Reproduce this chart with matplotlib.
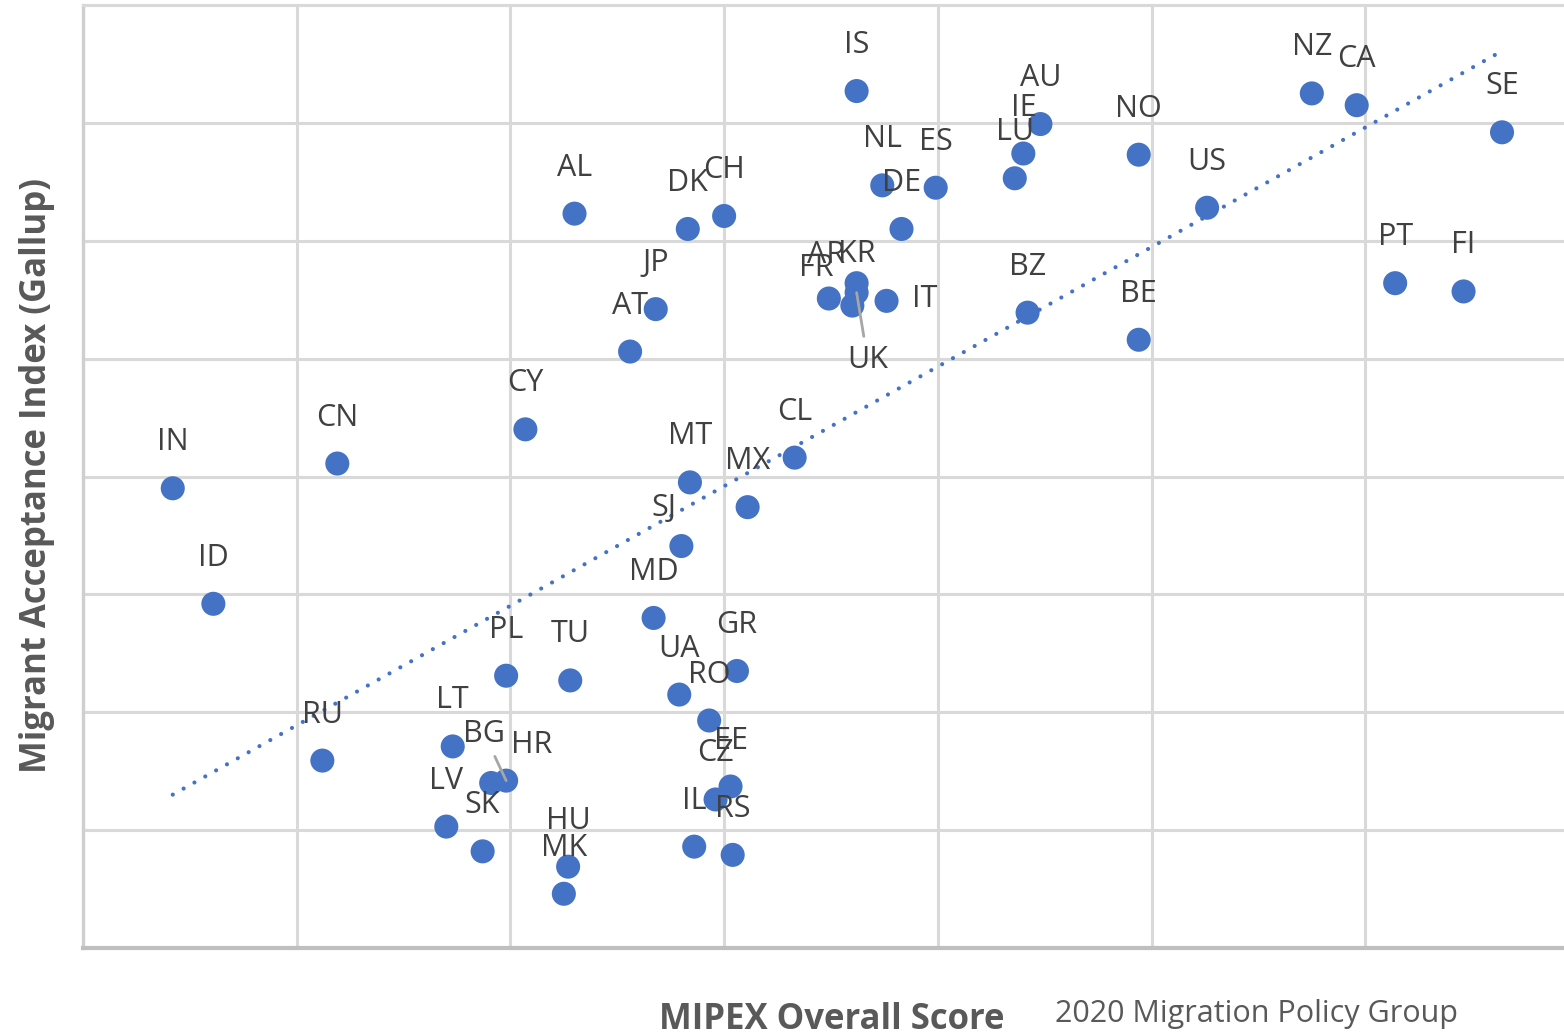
import numpy as np
import matplotlib
matplotlib.use("Agg")
import matplotlib.pyplot as plt

plt.rcParams['font.family'] = ['Open Sans', 'DejaVu Sans']

# country codes, MIPEX overall score, Gallup migrant acceptance index
codes = ['IS', 'NZ', 'CA', 'SE', 'AU', 'IE', 'LU', 'NO', 'NL', 'ES',
         'DE', 'US', 'AL', 'DK', 'CH', 'PT', 'FI', 'JP', 'AT', 'FR',
         'AR', 'KR', 'UK', 'IT', 'BZ', 'BE', 'CY', 'CN', 'IN', 'CL',
         'MT', 'MX', 'SJ', 'ID', 'MD', 'PL', 'TU', 'GR', 'UA', 'RO',
         'RU', 'LT', 'BG', 'HR', 'LV', 'SK', 'HU', 'MK', 'EE', 'CZ',
         'IL', 'RS']
mipex = [56.2, 77.5, 79.6, 86.4, 64.8, 64.0, 63.6, 69.4, 57.4, 59.9,
         58.3, 72.6, 43.0, 48.3, 50.0, 81.4, 84.6, 46.8, 45.6, 54.9,
         56.0, 56.2, 56.2, 57.6, 64.2, 69.4, 40.7, 31.9, 24.2, 53.3,
         48.4, 51.1, 48.0, 26.1, 46.7, 39.8, 42.8, 50.6, 47.9, 49.3,
         31.2, 37.3, 39.8, 39.1, 37.0, 38.7, 42.7, 42.5, 50.3, 49.6,
         48.6, 50.4]
mai = [8.27, 8.25, 8.15, 7.92, 7.99, 7.74, 7.53, 7.73, 7.47, 7.45,
       7.10, 7.28, 7.23, 7.10, 7.21, 6.64, 6.57, 6.42, 6.06, 6.51,
       6.45, 6.64, 6.56, 6.49, 6.39, 6.16, 5.40, 5.11, 4.90, 5.16,
       4.95, 4.74, 4.41, 3.92, 3.80, 3.31, 3.27, 3.35, 3.15, 2.93,
       2.59, 2.71, 2.42, 2.40, 2.03, 1.82, 1.69, 1.46, 2.37, 2.26,
       1.86, 1.79]

# label placement (pixels from the marker); most labels sit straight above
default_off = (0, 38)
label_off = {'SJ': (-17, 30), 'FR': (-13, 23), 'AR': (-26, 43),
             'KR': (0, 21), 'UK': (11, -75), 'IT': (38, -6),
             'BG': (-22, 39), 'HR': (40, 30)}
leader = {'UK', 'BG'}

blue = '#4472C4'
grid_c = '#d9d9d9'

fig = plt.figure(figsize=(15.64, 10.33), dpi=100)
ax = fig.add_axes([83 / 1564, 1 - 948 / 1033, 1 - 83 / 1564, 943 / 1033])

x = np.array(mipex)
y = np.array(mai)

# linear trendline
k, b = np.polyfit(x, y, 1)
xt = np.array([x.min(), x.max()])
ax.plot(xt, k * xt + b, color=blue, lw=3.0, linestyle=(0, (0.01, 2.97)),
        dash_capstyle='round', zorder=2)

ax.scatter(x, y, s=300, color=blue, edgecolors='none', zorder=3)

for c, xi, yi in zip(codes, mipex, mai):
    dx, dy = label_off.get(c, default_off)
    arrow = None
    if c in leader:
        arrow = dict(arrowstyle='-', color='#a6a6a6', lw=2,
                     shrinkA=4, shrinkB=0)
    ax.annotate(c, (xi, yi), xytext=(dx, dy), textcoords='offset pixels',
                ha='center', va='baseline', fontsize=22, color='#404040',
                arrowprops=arrow, zorder=4)

ax.set_xlim(20, 89.3)
ax.set_ylim(1, 9)
ax.set_xticks(np.arange(20, 90, 10))
ax.set_yticks(np.arange(1, 10, 1))
ax.tick_params(length=0, labelbottom=False, labelleft=False)
ax.grid(True, color=grid_c, lw=2.2, zorder=0)
ax.set_axisbelow(True)

ax.spines['right'].set_visible(False)
ax.spines['top'].set_color(grid_c)
ax.spines['top'].set_linewidth(2.2)
ax.spines['left'].set_color('#cfcfcf')
ax.spines['left'].set_linewidth(2.4)
ax.spines['bottom'].set_color('#bfbfbf')
ax.spines['bottom'].set_linewidth(3)

fig.text(37 / 1564, 1 - 476 / 1033, 'Migrant Acceptance Index (Gallup)',
         rotation=90, ha='center', va='center', fontsize=25,
         fontweight='bold', color='#595959')
fig.text(832 / 1564, 1 - 1029 / 1033, 'MIPEX Overall Score',
         ha='center', va='baseline', fontsize=25, fontweight='bold',
         color='#595959')
fig.text(1055 / 1564, 1 - 1022 / 1033, '2020 Migration Policy Group',
         ha='left', va='baseline', fontsize=22, color='#595959')

fig.savefig('out.png', dpi=100)
